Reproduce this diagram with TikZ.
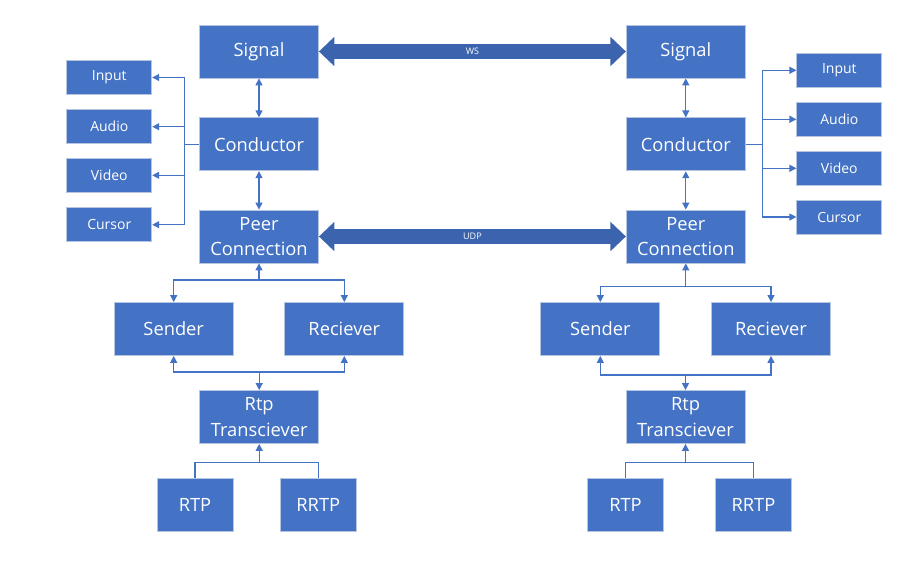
\documentclass[tikz,border=0pt]{standalone}
\usepackage{fontspec}
\setmainfont{Open Sans}
\usetikzlibrary{arrows.meta,calc}
\definecolor{boxblue}{HTML}{4472C4}
\definecolor{bordcol}{HTML}{B7C5E0}
\definecolor{bigblue}{HTML}{3C64AE}
\tikzset{
  box/.style={fill=boxblue,draw=bordcol,line width=0.8pt,text=white,inner sep=0pt,
    align=center,font=\fontsize{18.3}{25.5}\selectfont},
  big/.style={box,minimum width=119pt,minimum height=53pt},
  small/.style={box,minimum width=85pt,minimum height=34pt,font=\fontsize{14}{16}\selectfont},
  leaf/.style={box,minimum width=76pt,minimum height=53pt},
  conn/.style={draw=boxblue,line width=1.2pt},
  arr/.style={conn,-{Triangle[length=7pt,width=7pt]}},
  darr/.style={conn,{Triangle[length=7pt,width=7pt]}-{Triangle[length=7pt,width=7pt]}},
  bigarr/.style={draw=bigblue,line width=14.3pt,
    {Triangle[length=15.5pt,width=28.5pt]}-{Triangle[length=15.5pt,width=28.5pt]}},
  lbl/.style={text=white,font=\fontsize{9}{10}\selectfont,inner sep=0pt}
}
\begin{document}
\begin{tikzpicture}[x=1pt,y=-1pt]
\useasboundingbox (0,0) rectangle (913,565);
% left side
\node[big] (sigL) at (259,51.5) {Signal};
\node[big] (condL) at (259,144.3) {Conductor};
\node[big] (peerL) at (259,236.5) {Peer\\Connection};
\node[small] (inL) at (109.3,77.5) {Input};
\node[small] (audL) at (109.3,126.7) {Audio};
\node[small] (vidL) at (109.3,175.3) {Video};
\node[small] (curL) at (109.3,224.7) {Cursor};
\node[big] (sendL) at (173.7,329) {Sender};
\node[big] (recvL) at (344.3,329) {Reciever};
\node[big] (rtpL) at (259.2,417) {Rtp\\Transciever};
\node[leaf] (rtpA) at (195,505) {RTP};
\node[leaf] (rrtpA) at (318.3,505) {RRTP};
% right side
\node[big] (sigR) at (685.8,51.5) {Signal};
\node[big] (condR) at (685.8,144.3) {Conductor};
\node[big] (peerR) at (685.8,236.5) {Peer\\Connection};
\node[small] (inR) at (839.3,70.3) {Input};
\node[small] (audR) at (839.3,119.3) {Audio};
\node[small] (vidR) at (839.3,168.3) {Video};
\node[small] (curR) at (839.3,217) {Cursor};
\node[big] (sendR) at (600.3,329) {Sender};
\node[big] (recvR) at (771,329) {Reciever};
\node[big] (rtpR) at (685.5,417) {Rtp\\Transciever};
\node[leaf] (rtpB) at (625.5,505) {RTP};
\node[leaf] (rrtpB) at (753.5,505) {RRTP};
% big arrows
\draw[bigarr] (sigL.east) -- (sigR.west) node[midway,lbl] (ws) {WS};
\draw[bigarr] (peerL.east) -- (peerR.west) node[midway,lbl] (udp) {UDP};
% vertical links
\draw[darr] (sigL) -- (condL);
\draw[darr] (condL) -- (peerL);
\draw[darr] (sigR) -- (condR);
\draw[darr] (condR) -- (peerR);
% left fan
\coordinate (busL) at (184.3,144.3);
\draw[conn] (condL.west) -- (busL);
\draw[arr] (busL) |- (inL.east);
\draw[arr] (busL) |- (audL.east);
\draw[arr] (busL) |- (vidL.east);
\draw[arr] (busL) |- (curL.east);
% right fan
\coordinate (busR) at (762.3,144.3);
\draw[conn] (condR.east) -- (busR);
\draw[arr] (busR) |- (inR.west);
\draw[arr] (busR) |- (audR.west);
\draw[arr] (busR) |- (vidR.west);
\draw[arr] (busR) |- (curR.west);
% left lower tree
\coordinate (pbL) at (259,280);
\draw[arr] (pbL) -- (peerL.south);
\draw[arr] (pbL) -| (sendL.north);
\draw[arr] (pbL) -| (recvL.north);
\coordinate (sbL) at (259.2,372);
\draw[arr] (sbL) -| (sendL.south);
\draw[arr] (sbL) -| (recvL.south);
\draw[arr] (sbL) -- (rtpL.north);
\coordinate (tbL) at (259.2,462.3);
\draw[arr] (tbL) -- (rtpL.south);
\draw[conn] (tbL) -| (rtpA.north);
\draw[conn] (tbL) -| (rrtpA.north);
% right lower tree
\coordinate (pbR) at (685.8,286.7);
\draw[arr] (pbR) -- (peerR.south);
\draw[arr] (pbR) -| (sendR.north);
\draw[arr] (pbR) -| (recvR.north);
\coordinate (sbR) at (685.5,375);
\draw[arr] (sbR) -| (sendR.south);
\draw[arr] (sbR) -| (recvR.south);
\draw[arr] (sbR) -- (rtpR.north);
\coordinate (tbR) at (685.5,462.3);
\draw[arr] (tbR) -- (rtpR.south);
\draw[conn] (tbR) -| (rtpB.north);
\draw[conn] (tbR) -| (rrtpB.north);
\end{tikzpicture}
\end{document}
